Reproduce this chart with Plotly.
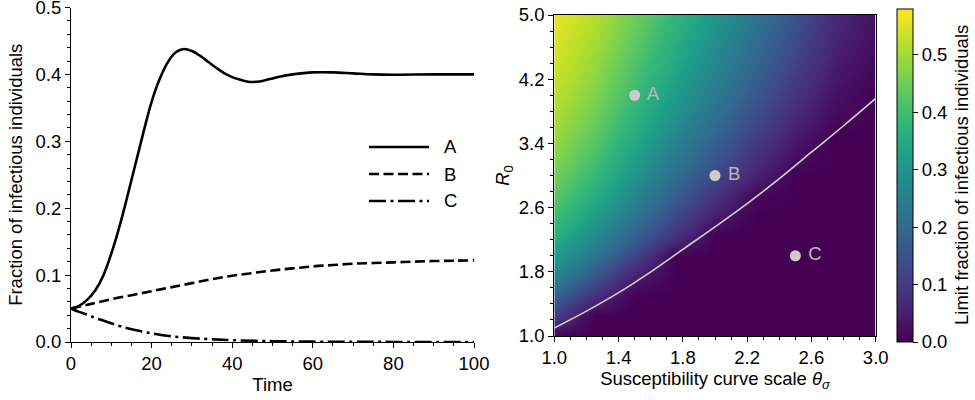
import plotly.graph_objects as go

# ---------------- Left panel data ----------------
t_A = [0, 2, 4, 6, 8, 10, 12, 14, 16, 18, 20, 22, 24, 26, 28, 30, 32, 34, 36, 38, 40,
       42, 44, 46, 48, 50, 52, 55, 60, 65, 70, 75, 80, 90, 100]
A_vals = [0.050, 0.054, 0.063, 0.077, 0.099, 0.132, 0.172, 0.218, 0.266, 0.314, 0.359,
          0.393, 0.418, 0.433, 0.438, 0.435, 0.428, 0.419, 0.410, 0.402, 0.396,
          0.392, 0.389, 0.389, 0.391, 0.394, 0.397, 0.400, 0.403, 0.403, 0.4015,
          0.400, 0.3995, 0.400, 0.400]

t_B = [0, 5, 10, 15, 20, 25, 30, 35, 40, 45, 50, 55, 60, 65, 70, 75, 80, 85, 90, 95, 100]
B_vals = [0.050, 0.057, 0.064, 0.070, 0.076, 0.082, 0.088, 0.094, 0.099, 0.103, 0.107,
          0.110, 0.113, 0.115, 0.117, 0.118, 0.119, 0.120, 0.121, 0.1215, 0.122]

t_C = [0, 2, 4, 6, 8, 10, 12, 15, 20, 25, 30, 35, 40, 50, 60, 70, 80, 100]
C_vals = [0.050, 0.045, 0.041, 0.036, 0.032, 0.028, 0.024, 0.019, 0.013, 0.0085, 0.0058,
          0.0040, 0.0027, 0.0012, 0.0005, 0.0002, 0.0001, 0.0]

legend_names = ["A", "B", "C"]

# ---------------- Right panel data ----------------
theta_grid = [1.0, 1.25, 1.5, 1.75, 2.0, 2.25, 2.5, 2.75, 3.0]
r0_grid = [1.0, 1.25, 1.5, 1.75, 2.0, 2.25, 2.5, 2.75, 3.0, 3.25, 3.5, 3.75, 4.0,
           4.25, 4.5, 4.75, 5.0]
# rows follow r0_grid, columns follow theta_grid
limit_fraction = [
    [0.000, 0.000, 0.000, 0.000, 0.000, 0.000, 0.000, 0.000, 0.000],  # 1.00
    [0.110, 0.000, 0.000, 0.000, 0.000, 0.000, 0.000, 0.000, 0.000],  # 1.25
    [0.185, 0.080, 0.000, 0.000, 0.000, 0.000, 0.000, 0.000, 0.000],  # 1.50
    [0.262, 0.160, 0.050, 0.000, 0.000, 0.000, 0.000, 0.000, 0.000],  # 1.75
    [0.320, 0.227, 0.120, 0.000, 0.000, 0.000, 0.000, 0.000, 0.000],  # 2.00
    [0.365, 0.281, 0.180, 0.085, 0.000, 0.000, 0.000, 0.000, 0.000],  # 2.25
    [0.400, 0.324, 0.228, 0.130, 0.045, 0.000, 0.000, 0.000, 0.000],  # 2.50
    [0.430, 0.359, 0.268, 0.173, 0.088, 0.010, 0.000, 0.000, 0.000],  # 2.75
    [0.455, 0.388, 0.302, 0.210, 0.126, 0.055, 0.000, 0.000, 0.000],  # 3.00
    [0.476, 0.413, 0.330, 0.242, 0.159, 0.085, 0.022, 0.000, 0.000],  # 3.25
    [0.494, 0.434, 0.355, 0.270, 0.189, 0.112, 0.046, 0.000, 0.000],  # 3.50
    [0.509, 0.452, 0.376, 0.295, 0.215, 0.137, 0.068, 0.015, 0.000],  # 3.75
    [0.522, 0.469, 0.395, 0.316, 0.238, 0.160, 0.088, 0.027, 0.002],  # 4.00
    [0.534, 0.483, 0.411, 0.335, 0.258, 0.180, 0.106, 0.038, 0.010],  # 4.25
    [0.544, 0.495, 0.426, 0.351, 0.276, 0.198, 0.123, 0.049, 0.017],  # 4.50
    [0.553, 0.507, 0.439, 0.366, 0.292, 0.214, 0.137, 0.059, 0.023],  # 4.75
    [0.564, 0.517, 0.451, 0.380, 0.306, 0.228, 0.150, 0.067, 0.029],  # 5.00
]

threshold_theta = [1.0, 1.2, 1.4, 1.6, 1.8, 2.0, 2.2, 2.4, 2.6, 2.8, 3.0]
threshold_r0 = [1.10, 1.31, 1.54, 1.80, 2.08, 2.36, 2.65, 2.96, 3.29, 3.62, 3.96]

point_labels = ["A", "B", "C"]
point_theta = [1.5, 2.0, 2.5]
point_r0 = [4.0, 3.0, 2.0]

# ---------------- Figure ----------------
W, H = 975, 400
FONT = "Liberation Sans, Arial, sans-serif"
FS = 18.5

def clamp(v):
    return max(0.0, min(1.0, v))

def px_x(p):
    return clamp(p / W)

def px_y(p):
    return clamp(1 - p / H)

fig = go.Figure()

line_w = 2.6
dash_B = "10px,4.5px"
dash_C = "17px,4.5px,3px,4.5px"

fig.add_trace(go.Scatter(x=t_A, y=A_vals, mode="lines", name=legend_names[0],
                         line=dict(color="black", width=line_w, shape="spline"),
                         xaxis="x", yaxis="y", showlegend=False, cliponaxis=False))
fig.add_trace(go.Scatter(x=t_B, y=B_vals, mode="lines", name=legend_names[1],
                         line=dict(color="black", width=line_w, dash=dash_B, shape="spline"),
                         xaxis="x", yaxis="y", showlegend=False))
fig.add_trace(go.Scatter(x=t_C, y=C_vals, mode="lines", name=legend_names[2],
                         line=dict(color="black", width=line_w, dash=dash_C, shape="spline"),
                         xaxis="x", yaxis="y", showlegend=False, cliponaxis=False))

fig.add_trace(go.Heatmap(
    x=theta_grid, y=r0_grid, z=limit_fraction, colorscale="Viridis",
    zmin=0, zmax=0.58, zsmooth="best", xaxis="x2", yaxis="y2",
    hoverinfo="skip",
    colorbar=dict(
        x=px_x(897), xanchor="left", xpad=0, ypad=0,
        thickness=16, thicknessmode="pixels",
        len=(342 - 9) / H, lenmode="fraction",
        y=px_y((9 + 342) / 2), yanchor="middle",
        outlinecolor="black", outlinewidth=1,
        tickvals=[0, 0.1, 0.2, 0.3, 0.4, 0.5],
        ticktext=["0.0", "0.1", "0.2", "0.3", "0.4", "0.5"],
        ticks="outside", ticklen=5, tickwidth=1.1, tickcolor="black",
        tickfont=dict(family=FONT, size=FS, color="black"),
    ),
))

fig.add_trace(go.Scatter(x=threshold_theta, y=threshold_r0, mode="lines",
                         line=dict(color="#d0d0d0", width=1.6, shape="spline"),
                         xaxis="x2", yaxis="y2", showlegend=False, hoverinfo="skip"))

fig.add_trace(go.Scatter(x=point_theta, y=point_r0, mode="markers+text",
                         text=[" " + s for s in point_labels], textposition="middle right",
                         marker=dict(size=11, color="#cccccc"),
                         textfont=dict(family=FONT, size=FS, color="#b8b8b8"),
                         xaxis="x2", yaxis="y2", showlegend=False, hoverinfo="skip"))

axis_common = dict(showline=True, linecolor="black", linewidth=1.1,
                   ticks="outside", ticklen=5, tickwidth=1.1, tickcolor="black",
                   showgrid=False, zeroline=False, automargin=False,
                   ticklabeloverflow="allow",
                   tickfont=dict(family=FONT, size=FS, color="black"))

fig.update_layout(
    width=W, height=H,
    margin=dict(l=0, r=0, t=0, b=0),
    paper_bgcolor="white", plot_bgcolor="white",
    font=dict(family=FONT, size=FS, color="black"),
    showlegend=False,
    xaxis=dict(domain=[px_x(71), px_x(474)], range=[0, 100],
               tickvals=[0, 20, 40, 60, 80, 100],
               minor=dict(dtick=5, ticks="outside", ticklen=3, tickwidth=1.1, tickcolor="black"),
               title=dict(text="Time", font=dict(family=FONT, size=FS), standoff=4),
               anchor="y", **axis_common),
    yaxis=dict(domain=[px_y(342), px_y(7.5)], range=[0, 0.5],
               tickvals=[0, 0.1, 0.2, 0.3, 0.4, 0.5],
               ticktext=["0.0", "0.1", "0.2", "0.3", "0.4", "0.5"],
               minor=dict(dtick=0.02, ticks="outside", ticklen=3, tickwidth=1.1, tickcolor="black"),
               title=dict(text="Fraction of infectious individuals",
                          font=dict(family=FONT, size=FS), standoff=8),
               anchor="x", **axis_common),
    xaxis2=dict(domain=[px_x(554.3), px_x(875.7)], range=[1, 3],
                tickvals=[1.0, 1.4, 1.8, 2.2, 2.6, 3.0],
                ticktext=["1.0", "1.4", "1.8", "2.2", "2.6", "3.0"],
                minor=dict(dtick=0.1, tick0=1.0, ticks="outside", ticklen=3, tickwidth=1.1, tickcolor="black"),
                title=dict(text="Susceptibility curve scale <i>θ</i><sub><i>σ</i></sub>",
                           font=dict(family=FONT, size=FS), standoff=4),
                mirror=True, anchor="y2", **axis_common),
    yaxis2=dict(domain=[px_y(336), px_y(15)], range=[1, 5],
                tickvals=[1.0, 1.8, 2.6, 3.4, 4.2, 5.0],
                ticktext=["1.0", "1.8", "2.6", "3.4", "4.2", "5.0"],
                minor=dict(dtick=0.2, tick0=1.0, ticks="outside", ticklen=3, tickwidth=1.1, tickcolor="black"),
                title=dict(text="<i>R</i><sub>0</sub>", font=dict(family=FONT, size=FS), standoff=4),
                mirror=True, anchor="x2", **axis_common),
)

# Manual legend for the left panel
leg_y = [147, 174, 201]
leg_dash = ["solid", dash_B, dash_C]
shapes = []
annotations = []
for name, yy, dsh in zip(legend_names, leg_y, leg_dash):
    shapes.append(dict(type="line", xref="paper", yref="paper",
                       x0=px_x(369), x1=px_x(429), y0=px_y(yy), y1=px_y(yy),
                       line=dict(color="black", width=line_w, dash=dsh)))
    annotations.append(dict(text=name, xref="paper", yref="paper",
                            x=px_x(442), y=px_y(yy), xanchor="left", yanchor="middle",
                            showarrow=False, font=dict(family=FONT, size=FS, color="black")))

annotations.append(dict(text="Limit fraction of infectious individuals",
                        xref="paper", yref="paper", x=px_x(961), y=px_y(175),
                        xanchor="center", yanchor="middle", textangle=-90,
                        showarrow=False, font=dict(family=FONT, size=FS, color="black")))

fig.update_layout(shapes=shapes, annotations=annotations)

# remove the browser's default 8px body margin so the figure sits at (0, 0)
fig.write_html("out.html",
               config={"displayModeBar": False},
               post_script="document.body.style.margin='0';document.body.style.overflow='hidden';")
